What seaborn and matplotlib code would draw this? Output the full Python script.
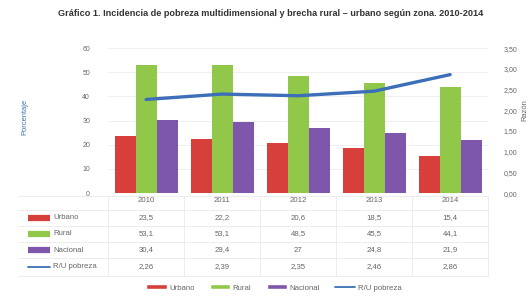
import numpy as np
import pandas as pd
import matplotlib
matplotlib.use("Agg")
import matplotlib.pyplot as plt
import matplotlib.transforms as mtransforms
from matplotlib.patches import Patch
from matplotlib.lines import Line2D
import seaborn as sns

# chart data
years = ['2010', '2011', '2012', '2013', '2014']
urbano = [23.5, 22.2, 20.6, 18.5, 15.4]
rural = [53.1, 53.1, 48.5, 45.5, 44.1]
nacional = [30.4, 29.4, 27, 24.8, 21.9]
razon = [2.26, 2.39, 2.35, 2.46, 2.86]
zonas = ['Urbano', 'Rural', 'Nacional']
line_name = 'R/U pobreza'

colors = {'Urbano': '#D63F3A', 'Rural': '#92C84A', 'Nacional': '#7E57AD'}
line_color = '#3C6FB8'
text_gray = '#666666'

sns.set_style("white")
plt.rcParams['font.family'] = ['Liberation Sans', 'DejaVu Sans']

df = pd.DataFrame({
    'Año': years * 3,
    'Valor': urbano + rural + nacional,
    'Zona': [z for z in zonas for _ in years],
})

fig = plt.figure(figsize=(5.3, 2.97), dpi=100)
ax = fig.add_axes([0.204, 0.350, 0.717, 0.488])

sns.barplot(data=df, x='Año', y='Valor', hue='Zona', palette=colors,
            hue_order=zonas, width=0.83, saturation=1, legend=False,
            linewidth=0, edgecolor='none', ax=ax)
ax.set_ylim(0, 60)
ax.set_yticks(range(0, 61, 10))
ax.set_xlim(-0.5, len(years) - 0.5)
ax.yaxis.grid(True, color='#ececec', lw=0.6)
ax.set_axisbelow(True)
ax.set_xlabel('')
ax.set_ylabel('')
ax.tick_params(axis='y', labelsize=5, colors=text_gray, length=0, pad=13)
ax.tick_params(axis='x', labelsize=5.6, colors=text_gray, length=0, pad=3)
for s in ax.spines.values():
    s.set_visible(False)

ax2 = ax.twinx()
sns.lineplot(x=np.arange(len(years)), y=razon, color=line_color, lw=2.4, ax=ax2)
ax2.set_ylim(0, 3.5)
ax2.set_yticks(np.arange(0, 3.51, 0.5))
ax2.set_yticklabels([f"{v:.2f}".replace('.', ',') for v in np.arange(0, 3.51, 0.5)])
ax2.tick_params(axis='y', labelsize=5, colors=text_gray, length=0, pad=11)
for s in ax2.spines.values():
    s.set_visible(False)

# data table below the chart
trans = mtransforms.blended_transform_factory(ax.transData, ax.transAxes)
rows = [('Urbano', urbano), ('Rural', rural), ('Nacional', nacional), (line_name, razon)]
row_y = [-0.172, -0.281, -0.393, -0.51]
for (name, vals), y in zip(rows, row_y):
    for i, v in enumerate(vals):
        if name == line_name:
            txt = f"{v:.2f}".replace('.', ',')
        else:
            txt = (f"{v:g}").replace('.', ',')
        ax.text(i, y, txt, transform=trans, ha='center', va='center',
                fontsize=5.6, color=text_gray)
    if name == line_name:
        ax.plot([-1.56, -1.26], [y, y], transform=trans, color=line_color,
                lw=1.3, clip_on=False)
    else:
        ax.plot([-1.56, -1.26], [y, y], transform=trans, color=colors[name],
                lw=4.5, solid_capstyle='butt', clip_on=False)
    ax.text(-1.22, y, name, transform=trans, ha='left', va='center',
            fontsize=5.6, color=text_gray)

# table borders
for y in [-0.02, -0.117, -0.227, -0.337, -0.45, -0.57]:
    ax.plot([-1.68, 4.5], [y, y], transform=trans, color='#e6e6e6',
            lw=0.5, clip_on=False)
for x in np.arange(-0.5, len(years) + 0.5, 1.0):
    ax.plot([x, x], [-0.02, -0.57], transform=trans, color='#e6e6e6',
            lw=0.5, clip_on=False)

handles = [Patch(facecolor=colors[z], label=z) for z in zonas]
handles.append(Line2D([0], [0], color=line_color, lw=1.3, label=line_name))
leg = fig.legend(handles=handles, loc='center', bbox_to_anchor=(0.517, 0.03),
                 ncol=4, frameon=False, fontsize=5.6, handlelength=2.6,
                 handleheight=0.6, columnspacing=2.0, handletextpad=0.3)
for t in leg.get_texts():
    t.set_color(text_gray)

fig.text(0.51, 0.955,
         'Gráfico 1. Incidencia de pobreza multidimensional y brecha rural – urbano según zona. 2010-2014',
         ha='center', va='center', fontsize=6.6, fontweight='bold', color='#333333')
fig.text(0.047, 0.605, 'Porcentaje', rotation=90, ha='center', va='center',
         fontsize=5.4, color=line_color)
fig.text(0.99, 0.63, 'Razón', rotation=90, ha='center', va='center',
         fontsize=5.4, color=text_gray)

fig.savefig('out.png', dpi=100)
